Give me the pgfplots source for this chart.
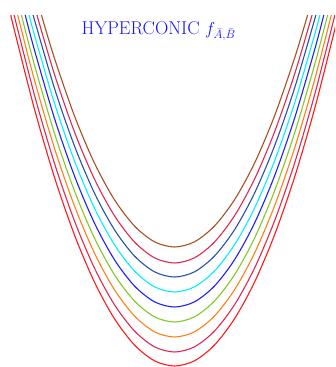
\documentclass[border=0pt]{standalone}
\usepackage{pgfplots}
\pgfplotsset{compat=1.18}
\definecolor{cRed}{RGB}{255,25,25}
\definecolor{cPink}{RGB}{225,40,80}
\definecolor{cOrange}{RGB}{255,128,20}
\definecolor{cGreen}{RGB}{130,200,40}
\definecolor{cBlue}{RGB}{30,30,255}
\definecolor{cCyan}{RGB}{0,240,255}
\definecolor{cNavy}{RGB}{40,80,170}
\definecolor{cCrimson}{RGB}{225,40,80}
\definecolor{cBrown}{RGB}{165,80,35}
\definecolor{cTitle}{RGB}{20,20,250}
\begin{document}
\begin{tikzpicture}
\begin{axis}[
  scale only axis, width=335pt, height=367pt,
  xmin=-174.5, xmax=160.5, ymin=0, ymax=367,
  hide axis,
  every axis plot/.append style={line width=1.1pt, smooth, no markers},
]
\addplot[cRed] coordinates {(-163.7,352)(-160,336.4)(-140,257.8)(-120,189.6)(-100,132)(-80,84.8)(-60,48.2)(-40,22.0)(-20,6.2)(0,1)(20,6.2)(40,22.0)(60,48.2)(80,84.8)(100,132)(120,189.6)(140,257.8)(160,336.4)(163.7,352)};
\addplot[cPink] coordinates {(-160.4,352)(-140,271.8)(-120,203.6)(-100,146)(-80,98.8)(-60,62.2)(-40,36.0)(-20,20.2)(0,15)(20,20.2)(40,36.0)(60,62.2)(80,98.8)(100,146)(120,203.6)(140,271.8)(160.4,352)};
\addplot[cOrange] coordinates {(-156.8,352)(-140,286.8)(-120,218.6)(-100,161)(-80,113.8)(-60,77.2)(-40,51.0)(-20,35.2)(0,30)(20,35.2)(40,51.0)(60,77.2)(80,113.8)(100,161)(120,218.6)(140,286.8)(156.8,352)};
\addplot[cGreen] coordinates {(-153.1,352)(-140,301.8)(-120,233.6)(-100,176)(-80,128.8)(-60,92.2)(-40,66.0)(-20,50.2)(0,45)(20,50.2)(40,66.0)(60,92.2)(80,128.8)(100,176)(120,233.6)(140,301.8)(153.1,352)};
\addplot[cBlue] coordinates {(-149.3,352)(-140,316.8)(-120,248.6)(-100,191)(-80,143.8)(-60,107.2)(-40,81.0)(-20,65.2)(0,60)(20,65.2)(40,81.0)(60,107.2)(80,143.8)(100,191)(120,248.6)(140,316.8)(149.3,352)};
\addplot[cCyan] coordinates {(-145.4,352)(-140,331.8)(-120,263.6)(-100,206)(-80,158.8)(-60,122.2)(-40,96.0)(-20,80.2)(0,75)(20,80.2)(40,96.0)(60,122.2)(80,158.8)(100,206)(120,263.6)(140,331.8)(145.4,352)};
\addplot[cNavy] coordinates {(-141.4,352)(-120,278.6)(-100,221)(-80,173.8)(-60,137.2)(-40,111.0)(-20,95.2)(0,90)(20,95.2)(40,111.0)(60,137.2)(80,173.8)(100,221)(120,278.6)(141.4,352)};
\addplot[cCrimson] coordinates {(-137.6,352)(-120,292.6)(-100,235)(-80,187.8)(-60,151.2)(-40,125.0)(-20,109.2)(0,104)(20,109.2)(40,125.0)(60,151.2)(80,187.8)(100,235)(120,292.6)(137.6,352)};
\addplot[cBrown] coordinates {(-133.1,352)(-120,308.6)(-100,251)(-80,203.8)(-60,167.2)(-40,141.0)(-20,125.2)(0,120)(20,125.2)(40,141.0)(60,167.2)(80,203.8)(100,251)(120,308.6)(133.1,352)};
\node[anchor=base west, text=cTitle, inner sep=0pt, font=\fontsize{18.5}{21}\selectfont] at (axis cs:-93,332) {HYPERCONIC $f_{\bar{A},\bar{B}}$};
\end{axis}
\path[use as bounding box] (current axis.south west) rectangle (current axis.north east);
\end{tikzpicture}
\end{document}
